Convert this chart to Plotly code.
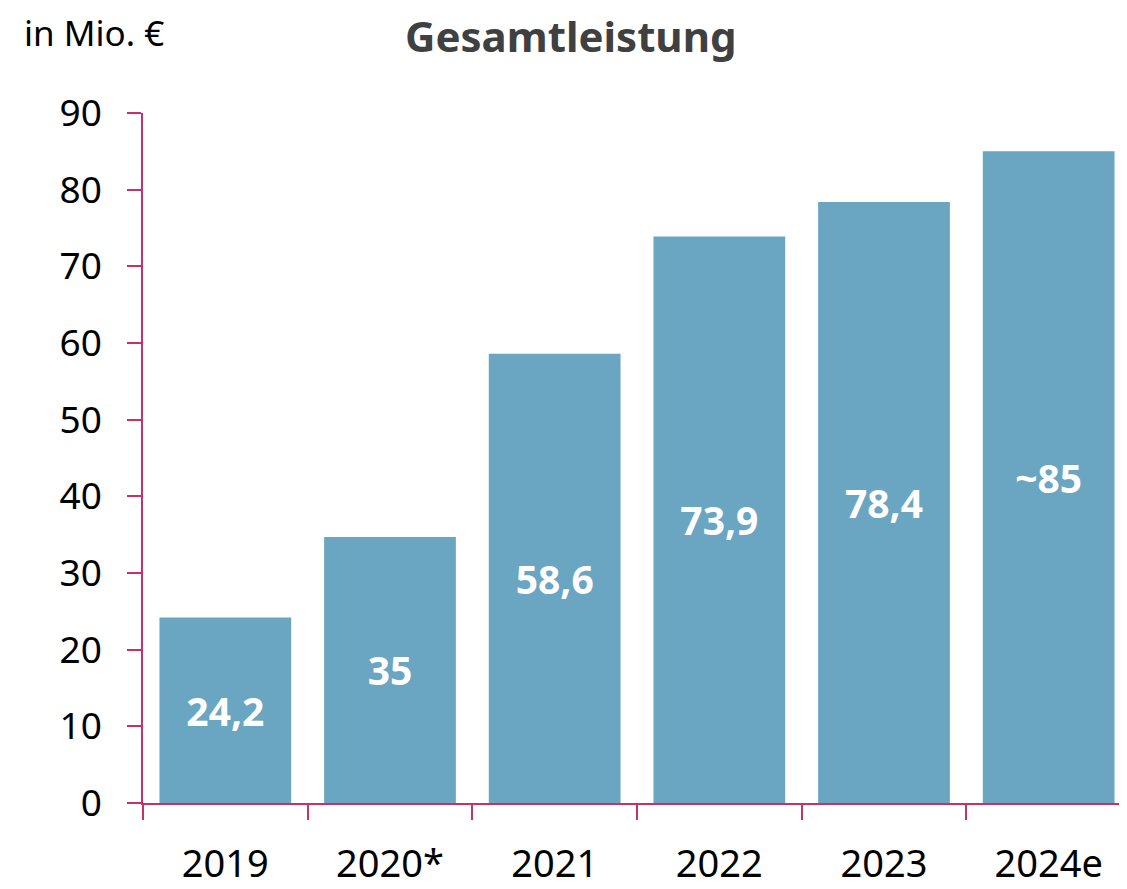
import plotly.graph_objects as go

categories = ["2019", "2020*", "2021", "2022", "2023", "2024e"]
values = [24.2, 34.7, 58.6, 73.9, 78.4, 85]
labels = ["24,2", "35", "58,6", "73,9", "78,4", "~85"]
y_ticks = [0, 10, 20, 30, 40, 50, 60, 70, 80, 90]

bar_color = "#6AA5C2"
axis_color = "#C8306A"
font_family = "Noto Sans, Open Sans, sans-serif"

# page has an 8px body margin; plot area in page: x 143..1131, y 113..803
L, T = 135, 105
PW, PH = 988, 690

fig = go.Figure(go.Bar(
    x=categories, y=values, text=labels,
    marker=dict(color=bar_color, line=dict(width=0)),
    width=0.8,
    textposition="inside", insidetextanchor="middle",
    textangle=0,
    textfont=dict(color="white", size=39, family=font_family, weight="bold"),
    hoverinfo="skip",
))

fig.update_layout(
    width=1127, height=889,
    margin=dict(l=L, r=1127 - L - PW, t=T, b=889 - T - PH),
    plot_bgcolor="white", paper_bgcolor="white",
    showlegend=False,
    font=dict(family=font_family, color="black"),
    uniformtext=dict(mode="show", minsize=39),
)

fig.update_xaxes(
    type="category", range=[-0.5, 5.5],
    showline=True, linecolor=axis_color, linewidth=1.5,
    ticks="outside", tickson="boundaries", ticklen=15, tickcolor=axis_color, tickwidth=1.5,
    tickfont=dict(size=38, color="black"),
    ticklabelstandoff=27,
    showgrid=False, zeroline=False,
)
fig.update_yaxes(
    range=[0, 90], tickvals=y_ticks,
    showline=True, linecolor=axis_color, linewidth=1.5,
    ticks="outside", ticklen=14, tickcolor=axis_color, tickwidth=1.5,
    tickfont=dict(size=37, color="black"),
    ticklabelstandoff=18,
    showgrid=False, zeroline=False,
)

fig.add_annotation(text="in Mio. €", xref="paper", yref="paper",
                   x=(22 - 143) / PW, y=1 + (113 - 32) / PH, xanchor="left", yanchor="middle",
                   showarrow=False, font=dict(size=35, color="black", family=font_family))
fig.add_annotation(text="<b>Gesamtleistung</b>", xref="paper", yref="paper",
                   x=(571 - 143) / PW, y=1 + (113 - 36) / PH, xanchor="center", yanchor="middle",
                   showarrow=False, font=dict(size=42, color="#404040", family=font_family))

fig.write_html("out.html")
